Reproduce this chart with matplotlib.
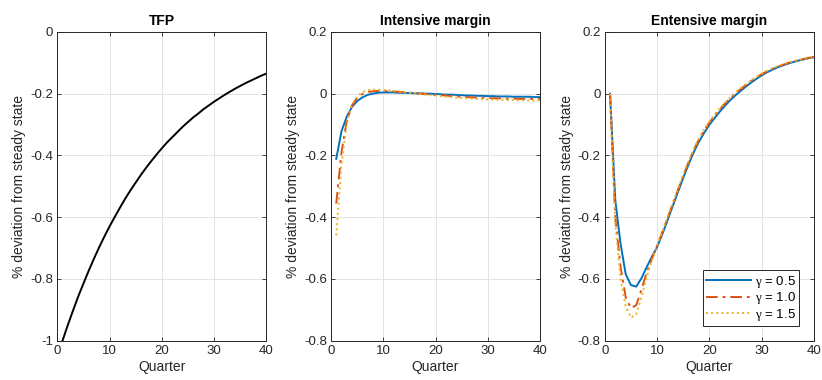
import numpy as np
import matplotlib
matplotlib.use("Agg")
import matplotlib.pyplot as plt

plt.rcParams['font.family'] = ['Liberation Sans', 'DejaVu Sans']
plt.rcParams['mathtext.fontset'] = 'custom'
plt.rcParams['mathtext.rm'] = 'Liberation Serif'
plt.rcParams['mathtext.it'] = 'Liberation Serif'

quarters = list(range(1, 41))

tfp = [-1.000, -0.950, -0.903, -0.857, -0.815, -0.774, -0.735, -0.698, -0.663, -0.630,
       -0.599, -0.569, -0.540, -0.513, -0.488, -0.463, -0.440, -0.418, -0.397, -0.377,
       -0.358, -0.341, -0.324, -0.307, -0.292, -0.277, -0.264, -0.250, -0.238, -0.226,
       -0.215, -0.204, -0.194, -0.184, -0.175, -0.166, -0.158, -0.150, -0.142, -0.135]

intensive_05 = [-0.211, -0.122, -0.075, -0.043, -0.024, -0.012, -0.004, 0.000, 0.003, 0.004,
                0.004, 0.004, 0.003, 0.003, 0.002, 0.001, 0.001, 0.000, 0.000, -0.001,
                -0.002, -0.003, -0.003, -0.004, -0.005, -0.006, -0.006, -0.007, -0.007, -0.008,
                -0.008, -0.009, -0.009, -0.009, -0.010, -0.010, -0.010, -0.010, -0.011, -0.011]
intensive_10 = [-0.356, -0.190, -0.090, -0.038, -0.014, -0.001, 0.005, 0.008, 0.009, 0.009,
                0.008, 0.007, 0.006, 0.004, 0.003, 0.002, 0.000, -0.001, -0.003, -0.004,
                -0.005, -0.006, -0.008, -0.009, -0.010, -0.011, -0.012, -0.013, -0.013, -0.014,
                -0.015, -0.015, -0.016, -0.016, -0.016, -0.017, -0.017, -0.017, -0.017, -0.017]
intensive_15 = [-0.459, -0.230, -0.098, -0.035, -0.008, 0.005, 0.011, 0.013, 0.013, 0.012,
                0.011, 0.009, 0.007, 0.005, 0.003, 0.001, -0.001, -0.003, -0.005, -0.006,
                -0.008, -0.010, -0.011, -0.013, -0.014, -0.015, -0.016, -0.017, -0.018, -0.019,
                -0.019, -0.020, -0.020, -0.021, -0.021, -0.021, -0.022, -0.022, -0.022, -0.022]

extensive_05 = [0.000, -0.345, -0.485, -0.585, -0.620, -0.625, -0.598, -0.562, -0.528, -0.497,
                -0.455, -0.410, -0.364, -0.318, -0.273, -0.230, -0.190, -0.156, -0.127, -0.101,
                -0.079, -0.058, -0.039, -0.021, -0.005, 0.009, 0.023, 0.036, 0.048, 0.059,
                0.069, 0.077, 0.085, 0.091, 0.097, 0.102, 0.107, 0.111, 0.115, 0.118]
extensive_10 = [0.000, -0.400, -0.560, -0.660, -0.695, -0.685, -0.635, -0.580, -0.535, -0.493,
                -0.449, -0.403, -0.357, -0.311, -0.266, -0.223, -0.183, -0.149, -0.120, -0.094,
                -0.072, -0.051, -0.032, -0.015, 0.001, 0.015, 0.028, 0.041, 0.052, 0.063,
                0.072, 0.080, 0.087, 0.093, 0.099, 0.104, 0.108, 0.112, 0.116, 0.119]
extensive_15 = [0.000, -0.420, -0.600, -0.690, -0.725, -0.715, -0.660, -0.595, -0.540, -0.492,
                -0.447, -0.400, -0.354, -0.308, -0.262, -0.219, -0.179, -0.145, -0.116, -0.090,
                -0.068, -0.047, -0.029, -0.012, 0.004, 0.018, 0.031, 0.043, 0.054, 0.065,
                0.074, 0.082, 0.089, 0.095, 0.100, 0.105, 0.109, 0.113, 0.117, 0.120]

labels = [r'$\mathrm{\gamma}$ = 0.5', r'$\mathrm{\gamma}$ = 1.0', r'$\mathrm{\gamma}$ = 1.5']
colors = ['#0072BD', '#D95319', '#EDB120']
styles = ['-', (0, (6, 2.5, 1.5, 2.5)), ':']

axcol = '#262626'


def style_axes(ax, yticks, ylim):
    ax.set_xlim(0, 40)
    ax.set_ylim(*ylim)
    ax.set_xticks([0, 10, 20, 30, 40])
    ax.set_yticks(yticks)
    ax.set_yticklabels(['%g' % v for v in yticks])
    ax.grid(True, color='#e3e3e3', linewidth=0.7)
    ax.set_axisbelow(True)
    ax.tick_params(direction='in', length=3, width=0.6, colors=axcol,
                   labelsize=9.5, top=True, right=True, pad=3)
    for s in ax.spines.values():
        s.set_color(axcol)
        s.set_linewidth(0.7)
    ax.set_xlabel('Quarter', fontsize=10, color=axcol, labelpad=2)
    ax.set_ylabel('% deviation from steady state', fontsize=10, color=axcol, labelpad=3)


fig = plt.figure(figsize=(8.22, 3.8), dpi=100)
w, h, b = 0.2543, 0.8125, 0.1035
ax1 = fig.add_axes([0.0697, b, w, h])
ax2 = fig.add_axes([0.4027, b, w, h])
ax3 = fig.add_axes([0.7358, b, w, h])

ax1.plot(quarters, tfp, color='black', linewidth=1.4)
style_axes(ax1, [0, -0.2, -0.4, -0.6, -0.8, -1], (-1, 0))
ax1.set_title('TFP', fontsize=10, fontweight='bold', pad=5)

for series, c, ls, lab in zip([intensive_05, intensive_10, intensive_15], colors, styles, labels):
    ax2.plot(quarters, series, color=c, linestyle=ls, linewidth=1.4, label=lab)
style_axes(ax2, [0.2, 0, -0.2, -0.4, -0.6, -0.8], (-0.8, 0.2))
ax2.set_title('Intensive margin', fontsize=10, fontweight='bold', pad=5)

for series, c, ls, lab in zip([extensive_05, extensive_10, extensive_15], colors, styles, labels):
    ax3.plot(quarters, series, color=c, linestyle=ls, linewidth=1.4, label=lab)
style_axes(ax3, [0.2, 0, -0.2, -0.4, -0.6, -0.8], (-0.8, 0.2))
ax3.set_title('Entensive margin', fontsize=10, fontweight='bold', pad=5)

leg = ax3.legend(loc='lower right', fontsize=9.5, fancybox=False, framealpha=1,
                 edgecolor=axcol, handlelength=3.4, handletextpad=0.3,
                 borderpad=0.25, labelspacing=0.05, borderaxespad=1.1)
leg.get_frame().set_linewidth(0.7)

fig.savefig('out.png', dpi=100)
